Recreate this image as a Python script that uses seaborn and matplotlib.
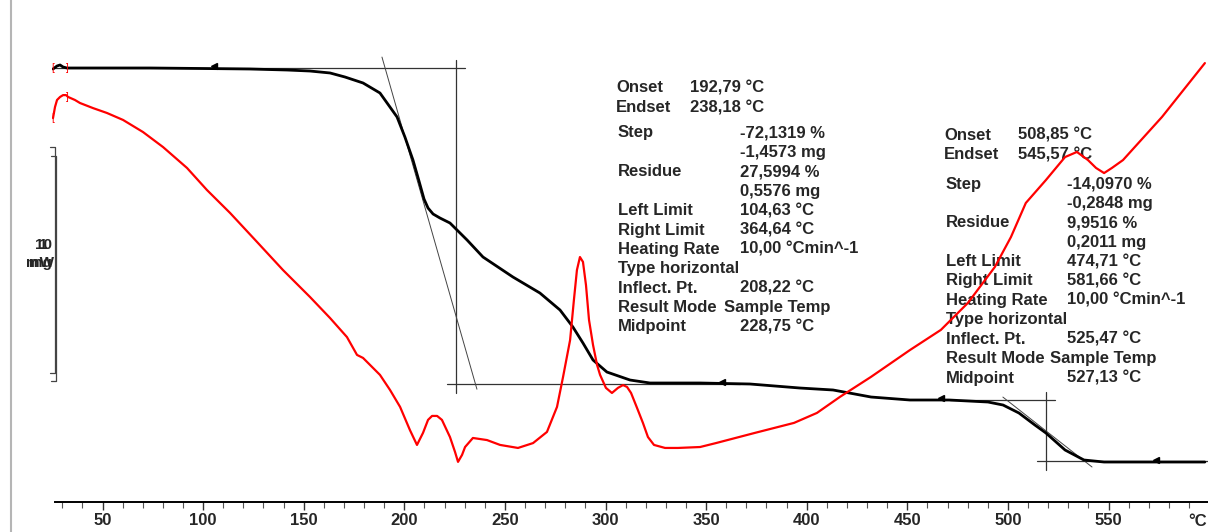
import matplotlib
matplotlib.use("Agg")
import matplotlib.pyplot as plt
import seaborn as sns
from matplotlib.lines import Line2D
from matplotlib.ticker import MultipleLocator

# ---------------- data ----------------
# TG curve: sample temperature (°C) vs mass (%)
tg_temp = [25.4, 27.4, 28.9, 30.4, 32.3, 48.8, 73.6, 98.5, 123.3, 141.7, 153.1, 163.1,
           170.5, 179.5, 187.9, 196.4, 200.3, 204.3, 207.3, 209.8, 211.8, 214.3, 217.7,
           222.7, 231.2, 239.1, 254.0, 267.4, 277.4, 283.8, 288.8, 293.8, 300.7, 312.2,
           322.1, 347.0, 371.8, 396.7, 413.1, 432.0, 451.3, 470.7, 490.1, 497.6, 505.5,
           513.4, 518.9, 528.4, 537.8, 547.8, 570.6, 597.9]
tg_mass = [99.77, 100.46, 100.69, 100.23, 100.0, 100.0, 100.0, 99.89, 99.77, 99.54, 99.31,
           98.86, 97.94, 96.57, 94.28, 88.79, 84.21, 78.95, 74.14, 70.02, 67.96, 66.59,
           65.68, 64.53, 60.64, 56.75, 52.17, 48.51, 44.62, 40.73, 37.07, 33.18, 30.43,
           28.60, 27.92, 27.92, 27.69, 26.77, 26.32, 24.71, 24.03, 24.03, 23.57, 22.88,
           21.05, 18.31, 16.48, 12.59, 10.30, 9.84, 9.84, 9.84]

# DSC curve: sample temperature (°C) vs heat flow (mW)
dsc_temp = [25.4, 26.4, 27.4, 28.9, 30.4, 31.9, 32.9, 36.3, 38.8, 45.3, 52.2, 60.2, 70.1,
            80.1, 92.0, 101.9, 113.4, 126.8, 139.7, 153.1, 163.1, 171.5, 176.5, 179.5,
            187.9, 192.9, 197.9, 202.8, 206.3, 209.3, 211.8, 213.8, 216.3, 218.7, 222.7,
            225.2, 226.7, 228.7, 230.2, 234.1, 241.1, 247.6, 256.5, 264.0, 270.9, 275.9,
            278.9, 282.4, 284.3, 285.8, 287.3, 288.8, 290.3, 291.8, 293.8, 295.8, 297.3,
            300.2, 303.2, 306.2, 308.7, 310.7, 312.7, 315.7, 318.6, 321.1, 324.1, 329.6,
            336.0, 347.0, 354.9, 374.3, 393.7, 405.1, 416.5, 431.9, 451.3, 466.7, 480.1,
            493.5, 501.5, 508.9, 518.9, 528.4, 534.3, 539.8, 543.8, 547.8, 551.7, 557.2,
            576.6, 597.9]
dsc_mw = [1.129, 1.177, 1.207, 1.220, 1.228, 1.228, 1.220, 1.207, 1.194, 1.172, 1.151,
          1.121, 1.069, 1.004, 0.914, 0.819, 0.720, 0.595, 0.474, 0.358, 0.267, 0.185,
          0.108, 0.095, 0.022, -0.043, -0.116, -0.216, -0.280, -0.228, -0.172, -0.155,
          -0.155, -0.172, -0.246, -0.310, -0.353, -0.323, -0.289, -0.250, -0.259, -0.280,
          -0.293, -0.272, -0.224, -0.116, 0.013, 0.172, 0.345, 0.474, 0.530, 0.509, 0.409,
          0.259, 0.151, 0.065, 0.022, -0.034, -0.056, -0.034, -0.022, -0.030, -0.056,
          -0.121, -0.185, -0.246, -0.280, -0.293, -0.293, -0.289, -0.272, -0.228, -0.185,
          -0.142, -0.073, 0.013, 0.129, 0.216, 0.332, 0.487, 0.616, 0.763, 0.862, 0.961,
          0.983, 0.948, 0.914, 0.892, 0.914, 0.948, 1.134, 1.366]

# evaluation construction lines (temperature, mass %)
step1_upper_t = [25.4, 230.2];   step1_upper_m = [100.0, 100.0]
step1_vert_t = [225.7, 225.7];   step1_vert_m = [101.8, 25.6]
step1_tan_t = [188.9, 236.1];    step1_tan_m = [102.5, 26.5]
step1_lower_t = [221.2, 366.8];  step1_lower_m = [27.7, 27.7]
step2_upper_t = [471.3, 523.5];  step2_upper_m = [24.0, 24.0]
step2_vert_t = [518.9, 518.9];   step2_vert_m = [25.9, 8.0]
step2_tan_t = [497.5, 541.8];    step2_tan_m = [24.7, 8.7]
step2_lower_t = [514.4, 600.0];  step2_lower_m = [10.07, 10.07]
limit_marks_t = [105.6, 357.9, 466.7, 573.6]
limit_marks_m = [100.5, 28.2, 24.4, 10.3]

tick_values = [50, 100, 150, 200, 250, 300, 350, 400, 450, 500, 550]
tick_labels = [str(v) for v in tick_values]

block1_labels = ["Step", "", "Residue", "", "Left Limit", "Right Limit", "Heating Rate",
                 "Type horizontal", "Inflect. Pt.", "Result Mode", "Midpoint"]
block1_values = ["-72,1319 %", "-1,4573 mg", "27,5994 %", "0,5576 mg", "104,63 °C",
                 "364,64 °C", "10,00 °Cmin^-1", "", "208,22 °C", "Sample Temp", "228,75 °C"]
block1_onset = [("Onset", "192,79 °C"), ("Endset", "238,18 °C")]
block2_labels = block1_labels
block2_values = ["-14,0970 %", "-0,2848 mg", "9,9516 %", "0,2011 mg", "474,71 °C",
                 "581,66 °C", "10,00 °Cmin^-1", "", "525,47 °C", "Sample Temp", "527,13 °C"]
block2_onset = [("Onset", "508,85 °C"), ("Endset", "545,57 °C")]

# ---------------- figure ----------------
sns.set_style("white")
plt.rcParams['font.family'] = ['Liberation Sans', 'DejaVu Sans']

W, H = 1208, 532
fig = plt.figure(figsize=(W / 100, H / 100), dpi=100)


def fx(x):
    return x / W


def fy(y):
    return 1 - y / H


ax = fig.add_axes([52.2 / W, 30 / H, 1155.9 / W, 502 / H])
ax2 = ax.twinx()

ax.set_xlim(25.0, 599.5)
ax.set_ylim(0.69, 115.56)
ax2.set_ylim(-0.526, 1.638)

# construction lines
for t, m in [(step1_upper_t, step1_upper_m), (step1_vert_t, step1_vert_m),
             (step1_lower_t, step1_lower_m), (step2_upper_t, step2_upper_m),
             (step2_vert_t, step2_vert_m), (step2_lower_t, step2_lower_m)]:
    ax.plot(t, m, color='#333333', lw=0.9, zorder=2)
for t, m in [(step1_tan_t, step1_tan_m), (step2_tan_t, step2_tan_m)]:
    ax.plot(t, m, color='#444444', lw=0.7, zorder=2)

sns.lineplot(x=tg_temp, y=tg_mass, ax=ax, color='black', linewidth=2.0,
             sort=False, estimator=None, zorder=3)
ax.plot(limit_marks_t, limit_marks_m, linestyle='none', marker='<', color='black',
        markersize=4, zorder=4)

sns.lineplot(x=dsc_temp, y=dsc_mw, ax=ax2, color='#ff0000', linewidth=1.6,
             sort=False, estimator=None, zorder=3)

# axes styling
for a in (ax, ax2):
    for s in a.spines.values():
        s.set_visible(False)
    a.set_xlabel("")
    a.set_ylabel("")
ax.spines['bottom'].set_visible(True)
ax.spines['bottom'].set_bounds(26.4, 599.5)
ax.spines['bottom'].set_color('black')
ax.spines['bottom'].set_linewidth(1.4)
ax.set_xticks(tick_values)
ax.set_xticklabels(tick_labels, fontsize=12, fontweight='bold')
ax.xaxis.set_minor_locator(MultipleLocator(10))
ax.tick_params(axis='x', which='major', bottom=True, direction='out', length=6,
               width=1, color='#333333', pad=2)
ax.tick_params(axis='x', which='minor', bottom=True, direction='out', length=4,
               width=0.8, color='#555555')
ax.tick_params(axis='y', left=False, labelleft=False)
ax2.tick_params(axis='y', right=False, labelright=False)
ax.grid(False)
ax2.grid(False)

fig.text(fx(1207), fy(522), "°C", ha='right', va='center', fontsize=12, fontweight='bold')

# left frame line
fig.add_artist(Line2D([fx(11), fx(11)], [0, 1], color='#b5b5b5', lw=1.5))

# scale brackets
for (ytop, ybot, xb) in [(147, 373, 55), (156, 381, 56)]:
    fig.add_artist(Line2D([fx(xb - 5), fx(xb), fx(xb), fx(xb - 5)],
                          [fy(ytop), fy(ytop), fy(ybot), fy(ybot)],
                          color='#444444', lw=0.9))
# the two scale labels are printed on top of each other, as in the reference
for top, bottom in [("10", "mg"), ("1", "mW")]:
    fig.text(fx(43), fy(245), top, ha='center', va='center', fontsize=11, fontweight='bold')
    fig.text(fx(40), fy(263), bottom, ha='center', va='center', fontsize=11, fontweight='bold')

# red start brackets
for (xx, yy) in [(53, 68), (67, 68), (53, 118), (67, 97)]:
    fig.text(fx(xx), fy(yy), "[" if xx < 60 else "]", ha='center', va='center',
             fontsize=7, color='#ff0000')

# evaluation text blocks (drawn with the lower axes so the red curve passes over them)
def put(x, y, s):
    ax.text(fx(x), fy(y), s, transform=fig.transFigure, ha='left', va='center',
            fontsize=12, fontweight='bold', zorder=1)


def block(x_lab, x_on_val, x_val, x_mode, y_onset, y_first, dy, onset, labels, values):
    for i, (lab, val) in enumerate(onset):
        put(x_lab - 2, y_onset + i * (dy + 0.2), lab)
        put(x_on_val, y_onset + i * (dy + 0.2), val)
    for i, (lab, val) in enumerate(zip(labels, values)):
        yy = y_first + i * dy
        if lab:
            put(x_lab, yy, lab)
        if val:
            put(x_mode if val == "Sample Temp" else x_val, yy, val)


block(618, 690, 740, 724, 88, 133, 19.4, block1_onset, block1_labels, block1_values)
block(946, 1018, 1067, 1050, 135, 184, 19.4, block2_onset, block2_labels, block2_values)

fig.savefig("out.png", dpi=100)
